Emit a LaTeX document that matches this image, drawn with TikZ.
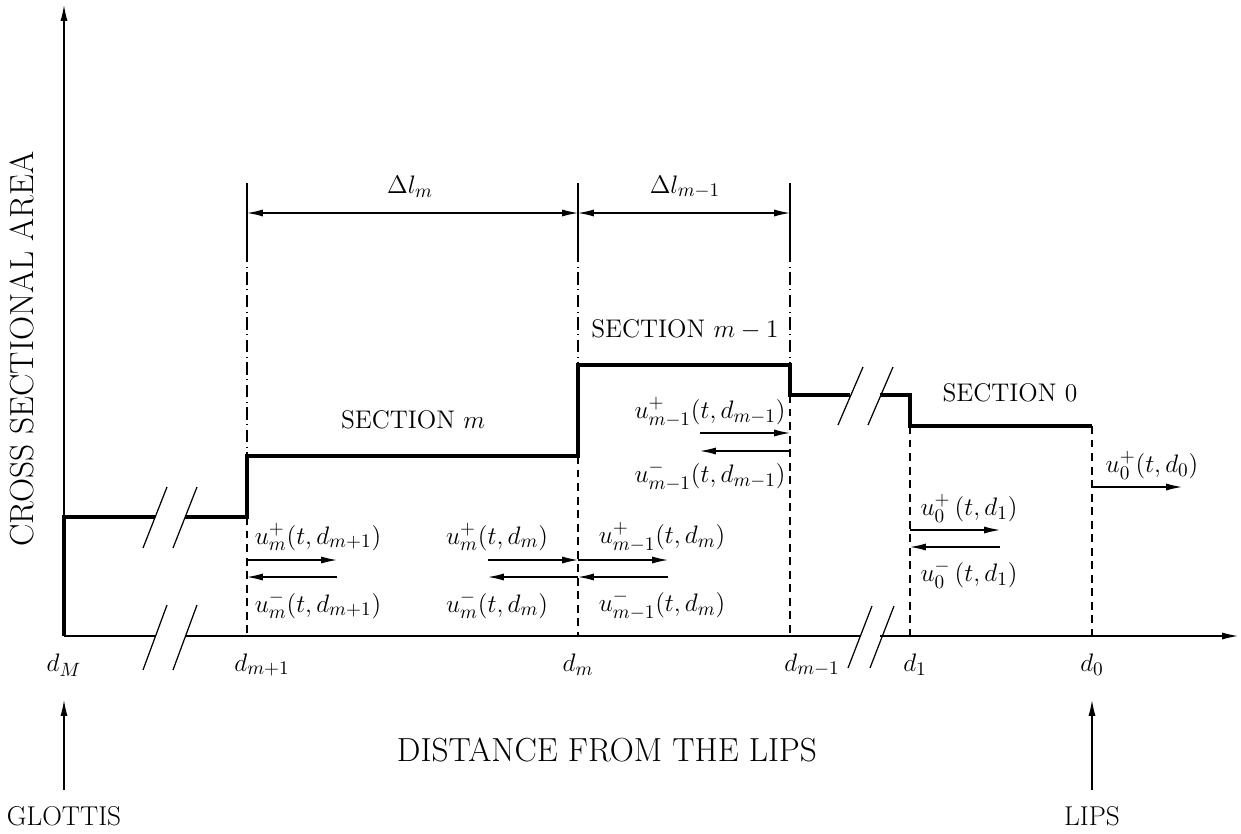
\documentclass[tikz,border=0pt]{standalone}
\usetikzlibrary{arrows.meta}
\DeclareMathSizes{15}{15}{11}{8.5}
\begin{document}
\begin{tikzpicture}[x=0.02cm, y=-0.02cm,
  >={Latex[length=9pt,width=4pt]},
  profile/.style={line width=2.8pt, line join=miter},
  thinline/.style={line width=0.7pt},
  dashdot/.style={line width=0.6pt, dash pattern=on 7pt off 2.6pt on 0.6pt off 2.6pt},
  dashline/.style={line width=0.6pt, dash pattern=on 4.5pt off 3.2pt},
  lbl/.style={font=\fontsize{15}{17}\selectfont, inner sep=0pt},
  seclbl/.style={font=\fontsize{14.5}{17}\selectfont, inner sep=0pt},
  endlbl/.style={font=\fontsize{15.5}{17}\selectfont, inner sep=0pt},
  biglbl/.style={font=\fontsize{19}{21}\selectfont, inner sep=0pt}]
  \useasboundingbox (0,0) rectangle (1241,833);
  % axes, with breaks
  \draw[thinline,->] (64,636) -- (64,5);
  \draw[thinline] (64,636) -- (155,636) (185,636) -- (860,636);
  \draw[thinline,->] (880,636) -- (1238,636);
  \foreach \x in {143,173}{ \draw[thinline] (\x,670) -- (\x+24,605); }
  \foreach \x in {848,870}{ \draw[thinline] (\x,668) -- (\x+24,606); }
  % area profile
  \draw[profile] (64,636) -- (64,517) -- (155,517);
  \draw[profile] (185,517) -- (247,517) -- (247,456) -- (578,456) -- (578,365)
                 -- (790,365) -- (790,395) -- (850,395);
  \draw[profile] (880,395) -- (910,395) -- (910,426) -- (1092,426);
  \foreach \x in {143,173}{ \draw[thinline] (\x,548) -- (\x+24,487); }
  \foreach \x in {838,868}{ \draw[thinline] (\x,425) -- (\x+25,367); }
  % extension lines and section lengths
  \foreach \x/\y in {247/456,578/365,790/365}{
     \draw[thinline] (\x,183) -- (\x,250);
     \draw[dashdot] (\x,250) -- (\x,\y); }
  \draw[thinline,<->] (247,213) -- (578,213);
  \draw[thinline,<->] (578,213) -- (790,213);
  \node[lbl] (dlm) at (410,187) {$\Delta l_m$};
  \node[lbl] (dlm1) at (685,187) {$\Delta l_{m-1}$};
  % junction lines
  \foreach \x/\y in {247/517,578/456,790/395,910/426,1092/426}{ \draw[dashline] (\x,\y) -- (\x,636); }
  % travelling waves
  \foreach \a/\b/\y in {247/337/560,488/578/560,578/668/560,700/790/433,910/1000/530,1092/1182/487}{
     \draw[thinline,->] (\a,\y) -- (\b,\y); }
  \foreach \a/\b/\y in {337/247/577,578/488/577,668/578/577,790/700/451,1000/910/547}{
     \draw[thinline,->] (\a,\y) -- (\b,\y); }
  \node[lbl] (upa) at (318,537) {$u_m^+(t,d_{m+1})$};
  \node[lbl] (uma) at (318,605) {$u_m^-(t,d_{m+1})$};
  \node[lbl] (upb) at (497,537) {$u_m^+(t,d_m)$};
  \node[lbl] (umb) at (497,605) {$u_m^-(t,d_m)$};
  \node[lbl] (upc) at (662,537) {$u_{m-1}^+(t,d_m)$};
  \node[lbl] (umc) at (662,605) {$u_{m-1}^-(t,d_m)$};
  \node[lbl] (upd) at (710,412) {$u_{m-1}^+(t,d_{m-1})$};
  \node[lbl] (umd) at (710,476) {$u_{m-1}^-(t,d_{m-1})$};
  \node[lbl] (upe) at (969,508) {$u_0^+\,(t,d_1)$};
  \node[lbl] (ume) at (969,574) {$u_0^-\,(t,d_1)$};
  \node[lbl] (upf) at (1152,465) {$u_0^+(t,d_0)$};
  % sections
  \node[seclbl] (secm) at (413,420) {SECTION $m$};
  \node[seclbl] (secm1) at (685,330) {SECTION $m-1$};
  \node[seclbl] (sec0) at (1010,393) {SECTION 0};
  % positions on the axis
  \node[lbl] (pM) at (64,665) {$d_M$};
  \node[lbl] (pm1) at (262,665) {$d_{m+1}$};
  \node[lbl] (pm) at (578,665) {$d_m$};
  \node[lbl] (pmm1) at (812,665) {$d_{m-1}$};
  \node[lbl] (p1) at (915,665) {$d_1$};
  \node[lbl] (p0) at (1092,665) {$d_0$};
  % ends of the tract
  \coordinate (glottis) at (64,700);
  \coordinate (lips) at (1092,700);
  \node[endlbl,anchor=south] (glottislbl) at (64,826) {GLOTTIS};
  \node[endlbl,anchor=south] (lipslbl) at (1092,826) {LIPS};
  \draw[thinline,->] (64,790) -- (glottis);
  \draw[thinline,->] (1092,790) -- (lips);
  \node[biglbl] (xlbl) at (607,750) {DISTANCE FROM THE LIPS};
  \node[biglbl,rotate=90] (ylbl) at (22,349) {CROSS SECTIONAL AREA};
\end{tikzpicture}
\end{document}
